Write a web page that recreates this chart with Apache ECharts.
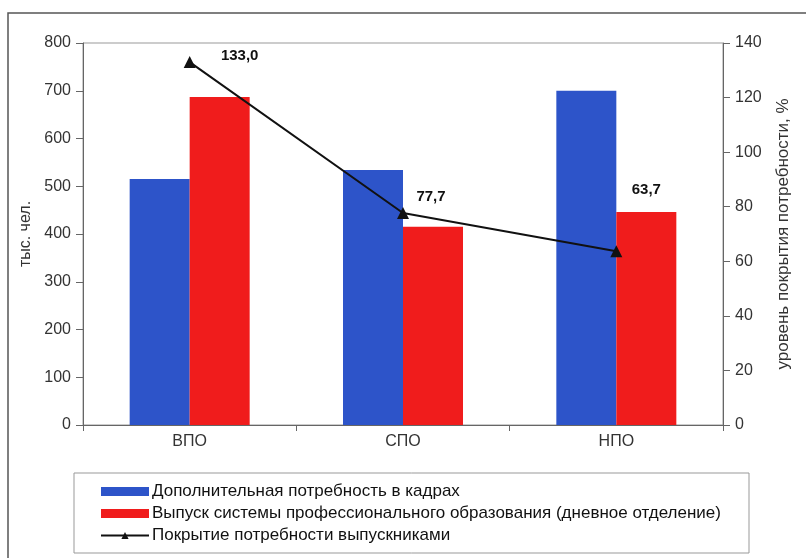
<!DOCTYPE html>
<html><head><meta charset="utf-8">
<script src="https://cdn.jsdelivr.net/npm/echarts@6/dist/echarts.min.js"></script>
<style>html,body{margin:0;padding:0;background:#fff}#c{width:806px;height:558px}</style>
</head><body><div id="c"></div>
<script>
const categories = ['ВПО', 'СПО', 'НПО'];
const demand = [515, 534, 700];
const graduates = [687, 415, 446];
const coverage = [133.0, 77.7, 63.7];
const leftTicks = {min: 0, max: 800, interval: 100};
const rightTicks = {min: 0, max: 140, interval: 20};
const seriesNames = ['Дополнительная потребность в кадрах',
  'Выпуск системы профессионального образования (дневное отделение)',
  'Покрытие потребности выпускниками'];
const labelOffsets = [[50, -6], [28, -16], [30, -61]];

const font = 'Liberation Sans, Arial, sans-serif';
const chart = echarts.init(document.getElementById('c'));
chart.setOption({
  animation: false,
  backgroundColor: '#fff',
  textStyle: {fontFamily: font},
  graphic: [
    {type: 'rect', shape: {x: 8, y: 13, width: 820, height: 580}, style: {fill: 'none', stroke: '#555', lineWidth: 1.5}, silent: true},
    {type: 'rect', shape: {x: 74, y: 473, width: 675, height: 80}, style: {fill: 'none', stroke: '#999', lineWidth: 1}, silent: true}
  ],
  grid: {left: 83, right: 83, top: 43, bottom: 133, show: true, borderColor: '#999', borderWidth: 1, backgroundColor: 'transparent'},
  legend: {
    orient: 'vertical', left: 95, top: 478, itemGap: 5, itemWidth: 48, itemHeight: 9,
    data: [
      {name: seriesNames[0], icon: 'rect'},
      {name: seriesNames[1], icon: 'rect'},
      {name: seriesNames[2]}
    ],
    textStyle: {fontSize: 17, color: '#111', fontFamily: font, padding: [0, 0, 0, -2]}
  },
  xAxis: {
    type: 'category', data: categories,
    axisLine: {lineStyle: {color: '#666'}},
    axisTick: {show: true, length: 6, lineStyle: {color: '#666'}},
    axisLabel: {fontSize: 16, color: '#333', margin: 9}
  },
  yAxis: [
    {type: 'value', min: leftTicks.min, max: leftTicks.max, interval: leftTicks.interval,
      name: 'тыс. чел.', nameLocation: 'middle', nameGap: 47, nameRotate: 90,
      nameTextStyle: {fontSize: 16, color: '#333'},
      axisLine: {show: true, lineStyle: {color: '#666'}},
      axisTick: {show: true, length: 7, lineStyle: {color: '#666'}},
      axisLabel: {fontSize: 16, color: '#333', margin: 12},
      splitLine: {show: false}},
    {type: 'value', min: rightTicks.min, max: rightTicks.max, interval: rightTicks.interval,
      name: 'уровень покрытия потребности, %', nameLocation: 'middle', nameGap: 52, nameRotate: 90,
      nameTextStyle: {fontSize: 17, color: '#333'},
      axisLine: {show: true, lineStyle: {color: '#666'}},
      axisTick: {show: true, length: 7, lineStyle: {color: '#666'}},
      axisLabel: {fontSize: 16, color: '#333', margin: 12},
      splitLine: {show: false}}
  ],
  series: [
    {name: seriesNames[0], type: 'bar', data: demand, barWidth: 60, barGap: '0%',
      itemStyle: {color: '#2d54c9'}},
    {name: seriesNames[1], type: 'bar', data: graduates, barWidth: 60, barGap: '0%',
      itemStyle: {color: '#f01c1c'}},
    {name: seriesNames[2], type: 'line', yAxisIndex: 1,
      data: coverage.map((v, i) => ({value: v, label: {offset: labelOffsets[i]}})),
      symbol: 'triangle', symbolSize: 12,
      lineStyle: {color: '#111', width: 2}, itemStyle: {color: '#111'},
      label: {show: true, position: 'inside', fontSize: 15, fontWeight: 'bold', color: '#111',
        formatter: p => p.value.toFixed(1).replace('.', ',')}}
  ]
});
</script></body></html>
